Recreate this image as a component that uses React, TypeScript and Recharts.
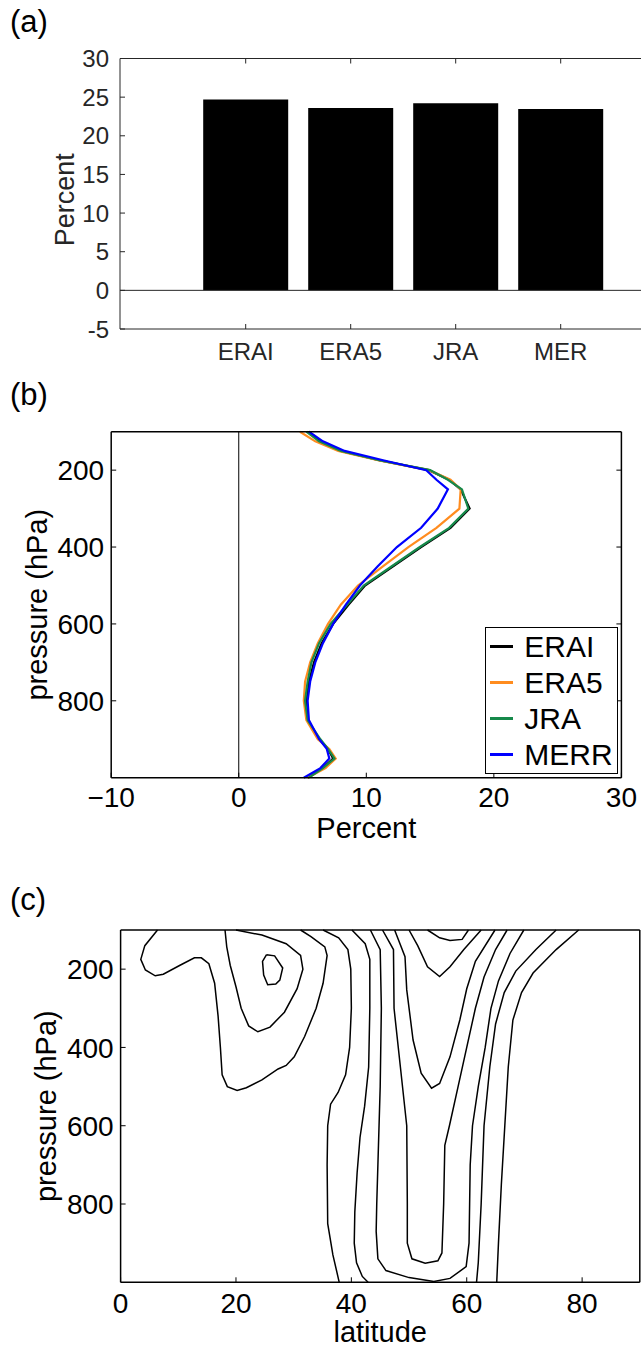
import React from "react";
import {
  BarChart,
  Bar,
  LineChart,
  Line,
  XAxis,
  YAxis,
  ReferenceLine,
  Legend,
} from "recharts";

// ---------- (a) share of total, by reanalysis ----------
const reanalyses = ["ERAI", "ERA5", "JRA", "MER"];
const sharePct = [24.7, 23.6, 24.2, 23.45];
const shareTicks = [-5, 0, 5, 10, 15, 20, 25, 30];

// ---------- (b) vertical profiles ----------
const levels = [100, 125, 150, 175, 200, 225, 250, 300, 350, 400, 450, 500, 550, 600, 650, 700, 750, 800, 850, 900, 925, 950, 975, 1000];
const eraiPct = [5.5, 6.4, 8.0, 11.1, 14.9, 16.5, 17.4, 18.1, 16.6, 14.3, 12.1, 9.9, 8.6, 7.4, 6.5, 5.9, 5.5, 5.3, 5.4, 6.3, 7.0, 7.4, 6.6, 5.4];
const era5Pct = [4.8, 6.0, 7.8, 11.0, 14.9, 16.6, 17.4, 17.3, 15.5, 13.3, 11.3, 9.35, 8.0, 7.0, 6.2, 5.6, 5.2, 5.1, 5.3, 6.2, 7.1, 7.6, 6.8, 5.4];
const jraPct = [5.3, 6.3, 8.0, 11.1, 15.0, 16.4, 17.5, 18.0, 16.5, 14.2, 12.0, 9.8, 8.5, 7.2, 6.3, 5.7, 5.4, 5.2, 5.4, 6.4, 7.0, 7.5, 6.6, 5.5];
const merrPct = [5.5, 6.6, 8.3, 11.4, 14.7, 15.5, 16.4, 15.6, 14.3, 12.4, 10.9, 9.5, 8.4, 7.4, 6.6, 6.0, 5.6, 5.4, 5.5, 6.3, 6.9, 7.1, 6.4, 5.1];
const profileNames = ["ERAI", "ERA5", "JRA", "MERR"];
const profileColors = ["#000000", "#ff8c1f", "#16894a", "#0000ff"];
const percentTicks = [-10, 0, 10, 20, 30];
const pressureTicks = [200, 400, 600, 800];
const latTicks = [0, 20, 40, 60, 80];

// ---------- (c) contour lines, [latitude, pressure] ----------
const contourA = [[6.4, 100], [4.2, 140], [3.5, 175], [4.3, 202], [6.0, 217], [7.4, 213], [10.3, 190], [12.8, 171], [14.0, 171], [15.3, 186], [16.3, 236], [16.9, 320], [17.3, 400], [17.6, 470], [18.5, 500], [20.2, 510], [21.8, 503], [24.5, 483], [27.3, 455], [28.7, 446], [30.1, 424], [31.9, 372], [33.9, 300], [35.1, 236], [35.8, 165], [35.4, 143], [33.0, 117], [31.2, 100]];
const contourB = [[18.1, 100], [18.4, 143], [19.0, 190], [20.0, 245], [20.9, 300], [22.2, 345], [23.8, 360], [25.9, 348], [28.4, 310], [30.6, 250], [31.6, 200], [31.2, 165], [28.7, 135], [24.5, 113], [20.0, 100]];
const contourE = [[25.3, 163], [26.7, 166], [28.1, 197], [27.6, 228], [26.9, 238], [25.5, 240], [24.8, 215], [24.6, 180], [25.3, 163]];
const contourD = [[35.1, 100], [37.8, 120], [39.4, 150], [39.9, 200], [40.0, 300], [39.7, 400], [39.0, 470], [37.7, 515], [36.4, 545], [35.9, 600], [35.8, 700], [35.9, 850], [36.8, 930], [37.9, 1000]];
const contourF = [[40.1, 100], [42.4, 135], [43.2, 175], [43.2, 300], [43.0, 450], [42.3, 550], [41.5, 630], [41.0, 720], [40.6, 820], [40.5, 900], [40.9, 950], [41.9, 985], [42.9, 1000]];
const contourG = [[43.3, 100], [45.0, 150], [45.2, 300], [45.0, 500], [44.7, 650], [44.4, 800], [44.3, 870], [44.6, 940], [46.0, 970], [50.0, 988], [54.3, 998], [57.1, 990], [59.9, 960], [60.4, 900], [60.5, 800], [60.6, 700], [61.0, 600], [62.0, 500], [63.2, 400], [64.2, 300], [65.5, 230], [67.5, 160], [69.9, 100]];
const contourH = [[45.4, 100], [47.3, 150], [47.4, 300], [48.5, 450], [49.6, 600], [49.7, 800], [49.7, 900], [50.5, 940], [52.8, 951], [55.0, 945], [55.7, 925], [56.0, 800], [56.2, 650], [57.0, 600], [58.5, 500], [60.0, 400], [61.5, 300], [63.0, 220], [65.0, 150], [67.0, 100]];
const contourV5 = [[47.5, 100], [49.3, 168], [49.6, 253], [50.7, 381], [52.1, 466], [53.9, 504], [55.3, 492], [57.1, 424], [58.8, 330], [60.0, 250], [61.5, 180], [64.9, 100]];
const contourV2 = [[50.0, 100], [51.5, 140], [53.2, 194], [55.3, 219], [57.1, 194], [59.5, 150], [62.5, 100]];
const contourW = [[53.2, 100], [55.3, 120], [57.1, 127], [59.2, 124], [60.3, 100]];
const contourR1 = [[75.5, 100], [72.0, 150], [68.5, 205], [66.5, 260], [65.0, 340], [64.0, 450], [63.0, 600], [62.5, 800], [62.0, 950], [61.7, 1000]];
const contourR2 = [[79.4, 100], [75.5, 150], [71.5, 210], [69.5, 260], [68.0, 330], [67.2, 450], [66.6, 600], [66.0, 750], [65.5, 900], [65.2, 1000]];
const contours = [contourA, contourB, contourE, contourD, contourF, contourG, contourH, contourV5, contourV2, contourW, contourR1, contourR2];

const FONT = "'Liberation Sans', Arial, Helvetica, sans-serif";

type Side = "left" | "right" | "top" | "bottom";

// MATLAB-style ticks: short marks pointing into the box, label outside
function makeTick(side: Side, color: string, fs: number, gap: number, labels: boolean, fmt?: (v: any) => string) {
  const len = 5;
  return (props: any) => {
    const { x, y, payload } = props;
    const txt = fmt ? fmt(payload.value) : String(payload.value);
    if (side === "left") {
      return (
        <g>
          <line x1={x} y1={y} x2={x + len} y2={y} stroke={color} strokeWidth={1} />
          {labels && (
            <text x={x - gap} y={y + fs * 0.36} textAnchor="end" fontSize={fs} fill={color} fontFamily={FONT}>
              {txt}
            </text>
          )}
        </g>
      );
    }
    if (side === "right") {
      return <line x1={x} y1={y} x2={x - len} y2={y} stroke={color} strokeWidth={1} />;
    }
    if (side === "top") {
      return <line x1={x} y1={y} x2={x} y2={y + len} stroke={color} strokeWidth={1} />;
    }
    return (
      <g>
        <line x1={x} y1={y} x2={x} y2={y - len} stroke={color} strokeWidth={1} />
        {labels && (
          <text x={x} y={y + gap} textAnchor="middle" fontSize={fs} fill={color} fontFamily={FONT}>
            {txt}
          </text>
        )}
      </g>
    );
  };
}

function xLabel(text: string, dy: number, fs: number, color: string) {
  return {
    content: (props: any) => {
      const vb = props.viewBox || {};
      return (
        <text x={vb.x + vb.width / 2} y={vb.y + dy} textAnchor="middle" fontSize={fs} fill={color} fontFamily={FONT}>
          {text}
        </text>
      );
    },
  };
}

function yLabel(text: string, baselineFromPlot: number, dy: number, fs: number, color: string) {
  return {
    content: (props: any) => {
      const vb = props.viewBox || {};
      const bx = vb.x + vb.width - baselineFromPlot;
      const cy = vb.y + vb.height / 2 + dy;
      return (
        <text transform={`translate(${bx},${cy}) rotate(-90)`} textAnchor="middle" fontSize={fs} fill={color} fontFamily={FONT}>
          {text}
        </text>
      );
    },
  };
}

const minus = (v: number) => (v < 0 ? `\u2212${Math.abs(v)}` : String(v));

// legend box drawn from the series names / colours
function ProfileLegend() {
  return (
    <div
      style={{
        width: 133,
        height: 147,
        boxSizing: "border-box",
        border: "1.5px solid #000",
        background: "#fff",
        fontFamily: FONT,
        fontSize: 30,
        paddingTop: 1,
      }}
    >
      {profileNames.map((n, k) => (
        <div key={n} style={{ display: "flex", alignItems: "center", height: 36, lineHeight: "36px" }}>
          <span style={{ display: "inline-block", width: 23, height: 2.5, background: profileColors[k], marginLeft: 4, marginRight: 11 }} />
          <span style={{ color: "#000" }}>{n}</span>
        </div>
      ))}
    </div>
  );
}

export default function App() {
  const shareData = reanalyses.map((name, i) => ({ name, value: sharePct[i] }));
  const series = [eraiPct, era5Pct, jraPct, merrPct];
  const profileData = levels.map((p, i) => {
    const row: any = { p };
    profileNames.forEach((n, k) => (row[n] = series[k][i]));
    return row;
  });
  const contourData = contours.map((c) => c.map(([lat, p]) => ({ lat, p })));

  const grayA = "#262626";

  return (
    <div style={{ position: "absolute", left: 0, top: 0, width: 641, height: 1347, overflow: "hidden", background: "#fff", fontFamily: FONT }}>
      <svg width={641} height={1347} style={{ position: "absolute", left: 0, top: 0 }}>
        <text x={10} y={32} fontSize={31} fontFamily={FONT} fill="#000">(a)</text>
        <text x={10} y={405} fontSize={31} fontFamily={FONT} fill="#000">(b)</text>
        <text x={10} y={910} fontSize={31} fontFamily={FONT} fill="#000">(c)</text>
      </svg>

      {/* (a) */}
      <div style={{ position: "absolute", left: 0, top: 0 }}>
        <BarChart width={700} height={380} data={shareData} margin={{ top: 48.5, right: 40, bottom: 11, left: 60 }}>
          <XAxis
            dataKey="name"
            padding={{ left: 73.2, right: 46.8 }}
            height={40}
            interval={0}
            tickSize={0}
            tickMargin={0}
            stroke={grayA}
            tick={makeTick("bottom", grayA, 24, 31, true)}
          />
          <XAxis
            xAxisId="top"
            dataKey="name"
            orientation="top"
            padding={{ left: 73.2, right: 46.8 }}
            height={10}
            interval={0}
            tickSize={0}
            tickMargin={0}
            stroke={grayA}
            tick={makeTick("top", grayA, 24, 0, false)}
          />
          <YAxis
            type="number"
            domain={[-5, 30]}
            ticks={shareTicks}
            interval={0}
            width={60}
            tickSize={0}
            tickMargin={0}
            stroke={grayA}
            tick={makeTick("left", grayA, 24, 11, true)}
            label={yLabel("Percent", 46, 6, 27, grayA)}
          />
          <ReferenceLine y={0} stroke={grayA} strokeWidth={1} />
          <Bar dataKey="value" fill="#000" barSize={85} isAnimationActive={false} />
        </BarChart>
      </div>

      {/* (b) */}
      <div style={{ position: "absolute", left: 0, top: 380 }}>
        <LineChart width={641} height={475} data={profileData} layout="vertical" margin={{ top: 41.7, right: 9.6, bottom: 37.3, left: 51.2 }}>
          <XAxis
            type="number"
            domain={[-10, 30]}
            ticks={percentTicks}
            interval={0}
            height={40}
            tickSize={0}
            tickMargin={0}
            stroke="#000"
            strokeWidth={1.5}
            tick={makeTick("bottom", "#000", 28, 29, true, minus)}
            label={xLabel("Percent", 60, 29, "#000")}
          />
          <XAxis
            xAxisId="top"
            type="number"
            orientation="top"
            domain={[-10, 30]}
            ticks={percentTicks}
            interval={0}
            height={10}
            tickSize={0}
            tickMargin={0}
            stroke="#000"
            strokeWidth={1.5}
            tick={makeTick("top", "#000", 28, 0, false)}
          />
          <YAxis
            type="number"
            dataKey="p"
            domain={[100, 1000]}
            ticks={pressureTicks}
            interval={0}
            width={60}
            tickSize={0}
            tickMargin={0}
            stroke="#000"
            strokeWidth={1.5}
            tick={makeTick("left", "#000", 28, 7, true)}
            label={yLabel("pressure (hPa)", 64, 0, 29, "#000")}
          />
          <YAxis
            yAxisId="right"
            type="number"
            dataKey="p"
            orientation="right"
            domain={[100, 1000]}
            ticks={pressureTicks}
            interval={0}
            width={10}
            tickSize={0}
            tickMargin={0}
            stroke="#000"
            strokeWidth={1.5}
            tick={makeTick("right", "#000", 28, 0, false)}
          />
          <ReferenceLine x={0} stroke="#000" strokeWidth={1} />
          {profileNames.map((n, k) => (
            <Line key={n} dataKey={n} name={n} stroke={profileColors[k]} strokeWidth={2.2} dot={false} type="linear" isAnimationActive={false} />
          ))}
          <Legend
            layout="horizontal"
            verticalAlign="middle"
            align="center"
            content={<ProfileLegend />}
            wrapperStyle={{ position: "absolute", left: 485.3, top: 246.7, width: 133, height: 147 }}
          />
        </LineChart>
      </div>

      {/* (c) */}
      <div style={{ position: "absolute", left: 0, top: 840 }}>
        <LineChart width={641} height={507} margin={{ top: 80, right: 0.2, bottom: 24.7, left: 60.6 }}>
          <XAxis
            dataKey="lat"
            type="number"
            domain={[0, 90]}
            ticks={latTicks}
            interval={0}
            height={40}
            tickSize={0}
            tickMargin={0}
            stroke="#000"
            strokeWidth={1.5}
            tick={makeTick("bottom", "#000", 28, 31, true)}
            label={xLabel("latitude", 60, 29, "#000")}
          />
          <XAxis
            xAxisId="top"
            dataKey="lat"
            type="number"
            orientation="top"
            domain={[0, 90]}
            ticks={latTicks}
            interval={0}
            height={10}
            tickSize={0}
            tickMargin={0}
            stroke="#000"
            strokeWidth={1.5}
            tick={makeTick("top", "#000", 28, 0, false)}
          />
          <YAxis
            type="number"
            domain={[100, 1000]}
            reversed
            ticks={pressureTicks}
            interval={0}
            width={60}
            tickSize={0}
            tickMargin={0}
            stroke="#000"
            strokeWidth={1.5}
            tick={makeTick("left", "#000", 28, 7, true)}
            label={yLabel("pressure (hPa)", 65, 0, 29, "#000")}
          />
          <YAxis
            yAxisId="right"
            type="number"
            orientation="right"
            domain={[100, 1000]}
            reversed
            ticks={pressureTicks}
            interval={0}
            width={1}
            tickSize={0}
            tickMargin={0}
            stroke="#000"
            strokeWidth={1.5}
            tick={makeTick("right", "#000", 28, 0, false)}
          />
          {contourData.map((d, i) => (
            <Line key={i} data={d} dataKey="p" stroke="#000" strokeWidth={1.5} dot={false} type="linear" isAnimationActive={false} />
          ))}
        </LineChart>
      </div>
    </div>
  );
}
